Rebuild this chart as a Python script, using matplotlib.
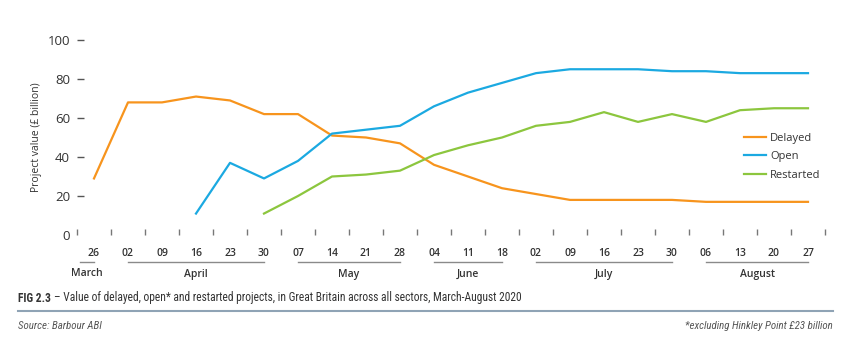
import matplotlib.pyplot as plt
import matplotlib.transforms as mtransforms
import numpy as np

nan = np.nan

# weekly dates, March - August 2020
date_labels = ["26", "02", "09", "16", "23", "30", "07", "14", "21", "28",
               "04", "11", "18", "02", "09", "16", "23", "30", "06", "13",
               "20", "27"]
delayed = [29, 68, 68, 71, 69, 62, 62, 51, 50, 47, 36, 30, 24, 21, 18, 18,
           18, 18, 17, 17, 17, 17]
open_projects = [nan, nan, nan, 11, 37, 29, 38, 52, 54, 56, 66, 73, 78, 83,
                 85, 85, 85, 84, 84, 83, 83, 83]
restarted = [nan, nan, nan, nan, nan, 11, 20, 30, 31, 33, 41, 46, 50, 56,
             58, 63, 58, 62, 58, 64, 65, 65]

months = ["March", "April", "May", "June", "July", "August"]
month_first = [0, 1, 6, 10, 13, 18]
month_last = [0, 5, 9, 12, 17, 21]

plt.rcParams['font.family'] = ['Open Sans', 'DejaVu Sans']
narrow = ['Roboto Condensed', 'Roboto', 'DejaVu Sans']
txt = "#333333"

fig = plt.figure(figsize=(8.5, 3.47), dpi=100)
ax = fig.add_axes([77 / 850, 1 - 235 / 347, 748 / 850, 195 / 347])

x = np.arange(len(date_labels))
ax.plot(x, delayed, color="#F7941D", lw=1.6, label="Delayed", clip_on=False)
ax.plot(x, open_projects, color="#1BA9E1", lw=1.6, label="Open", clip_on=False)
ax.plot(x, restarted, color="#8CC63E", lw=1.6, label="Restarted", clip_on=False)

ax.set_xlim(-0.5, len(date_labels) - 0.5)
ax.set_ylim(0, 100)
for s in ax.spines.values():
    s.set_visible(False)

ax.set_yticks([0, 20, 40, 60, 80, 100])
ax.tick_params(axis='y', direction='in', length=5, width=1, color="#555555",
               labelsize=9.5, labelcolor=txt, pad=5)
ax.set_xticks(x)
ax.set_xticklabels(date_labels, fontweight='semibold')
ax.set_xticks(np.arange(-0.5, len(date_labels)), minor=True)
ax.tick_params(axis='x', which='major', length=0, labelsize=7.5,
               labelcolor=txt, pad=9)
ax.tick_params(axis='x', which='minor', direction='in', length=4, width=1,
               color="#777777")
# hide 0 dash on y axis
ax.yaxis.get_major_ticks()[0].tick1line.set_visible(False)

ax.set_ylabel("Project value (£ billion)", fontsize=7.5, color=txt, labelpad=4)

# month brackets under dates
trans = mtransforms.blended_transform_factory(ax.transData, ax.transAxes)
for name, a, b in zip(months, month_first, month_last):
    if a == b:
        a = a - 0.4
    ax.plot([a, b], [-0.138, -0.138], color="#8a8a8a", lw=1, transform=trans,
            clip_on=False)
    ax.text((a + b) / 2, -0.2, name, transform=trans, ha='center', va='center',
            fontsize=7.5, fontweight='semibold', color=txt)

ax.legend(loc='upper left', bbox_to_anchor=(738 / 850, 1 - 127 / 347),
          bbox_transform=fig.transFigure, frameon=False, fontsize=8,
          handlelength=2.0, handletextpad=0.4, labelspacing=0.7, borderpad=0,
          labelcolor=txt)

# caption and footer
t1 = fig.text(18 / 850, 1 - 298 / 347, "FIG 2.3", fontsize=8.3,
              fontweight='bold', color=txt, va='center', family=narrow)
ax.annotate("– Value of delayed, open* and restarted projects, in Great "
            "Britain across all sectors, March-August 2020",
            xy=(1, 0.5), xycoords=t1, xytext=(2.5, 0), textcoords='offset points',
            fontsize=8.3, color=txt, va='center', family=narrow,
            annotation_clip=False)
fig.add_artist(plt.Line2D([18 / 850, 833 / 850], [1 - 311 / 347, 1 - 311 / 347],
                          color="#8fa3b5", lw=1.5, transform=fig.transFigure))
fig.text(18 / 850, 1 - 326 / 347, "Source: Barbour ABI", fontsize=7.8,
         style='italic', color="#555555", va='center', family=narrow)
fig.text(833 / 850, 1 - 326 / 347, "*excluding Hinkley Point £23 billion",
         fontsize=7.8, style='italic', color="#555555", va='center', ha='right',
         family=narrow)

fig.savefig("out.png", dpi=100)
